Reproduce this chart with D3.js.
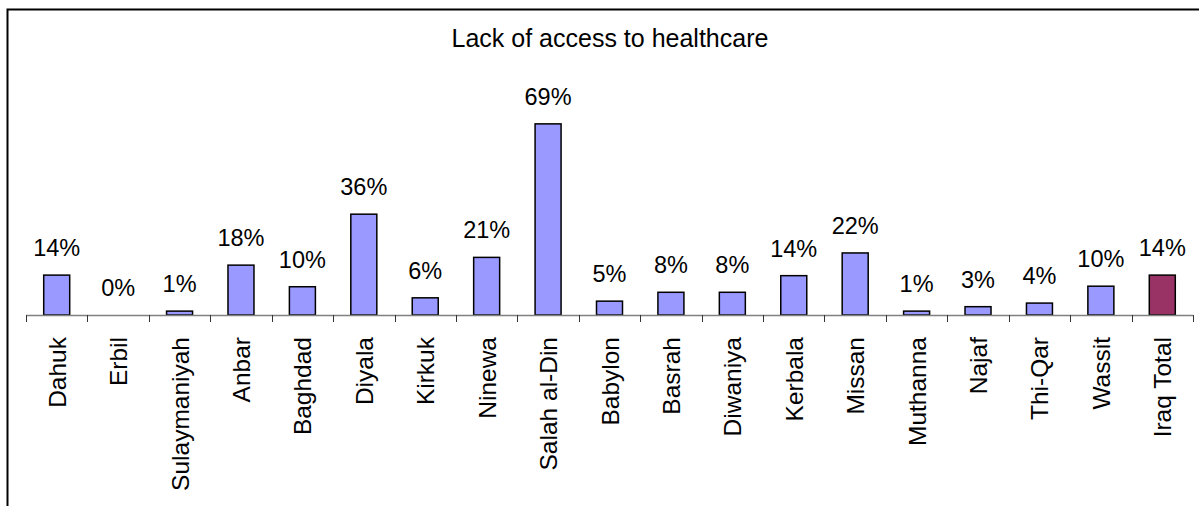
<!DOCTYPE html>
<html>
<head>
<meta charset="utf-8">
<script src="https://cdn.jsdelivr.net/npm/d3@7"></script>
<style>
  html, body { margin: 0; padding: 0; background: #fff; }
  svg { display: block; }
  text { font-family: "Liberation Sans", Arial, sans-serif; fill: #000; }
</style>
</head>
<body>
<svg id="chart" width="1199" height="506"></svg>
<script>
const title = "Lack of access to healthcare";
const categories = ["Dahuk","Erbil","Sulaymaniyah","Anbar","Baghdad","Diyala","Kirkuk","Ninewa","Salah al-Din","Babylon","Basrah","Diwaniya","Kerbala","Missan","Muthanna","Najaf","Thi-Qar","Wassit","Iraq Total"];
const values = [0.144,0.0,0.014,0.18,0.102,0.364,0.062,0.208,0.69,0.05,0.082,0.082,0.142,0.224,0.014,0.03,0.043,0.104,0.144];
const colors = {region: "#9999FF", total: "#993366"};

const svg = d3.select("#chart");
const W = 1199, H = 506;

// frame
svg.append("path").attr("d", `M7.5,${H} L7.5,9.5 L${W},9.5`)
  .attr("fill","none").attr("stroke","#000").attr("stroke-width",2);

const x = d3.scaleBand().domain(categories).range([26, 1193]).paddingInner(0).paddingOuter(0);
const y = d3.scaleLinear().domain([0, 0.8]).range([315, 315 - 0.8 * 277]);
const barW = 26;
const fmt = d3.format(".0%");

svg.append("text").attr("x", 610).attr("y", 47).attr("text-anchor","middle")
  .style("font-size","25px").text(title);

// bars
svg.append("g").selectAll("rect").data(categories).join("rect")
  .attr("x", d => x(d) + x.bandwidth()/2 - barW/2)
  .attr("y", (d,i) => y(values[i]))
  .attr("width", barW)
  .attr("height", (d,i) => y(0) - y(values[i]))
  .attr("fill", (d,i) => d === "Iraq Total" ? colors.total : colors.region)
  .attr("stroke", (d,i) => values[i] > 0 ? "#000" : "none")
  .attr("stroke-width", 1.5);

// axis
const axis = d3.axisBottom(x).tickSize(0).tickFormat("");
const ax = svg.append("g").attr("transform", `translate(0,${y(0)})`).call(axis);
ax.select(".domain").attr("stroke","#808080").attr("stroke-width",1.5).attr("d", `M26,0.5H1193`);
// boundary ticks
const bounds = categories.map(c => x(c)).concat([x.range()[1]]);
ax.selectAll(".btick").data(bounds).join("line").attr("class","btick")
  .attr("x1", d => Math.round(d)+0.5).attr("x2", d => Math.round(d)+0.5)
  .attr("y1", 0).attr("y2", 7).attr("stroke","#333").attr("stroke-width",1);

// category labels
svg.append("g").selectAll("text").data(categories).join("text")
  .attr("transform", d => `translate(${x(d) + x.bandwidth()/2 + 9},337) rotate(-90)`)
  .attr("text-anchor","end")
  .style("font-size","24.5px")
  .text(d => d);

// value labels
svg.append("g").selectAll("text").data(categories).join("text")
  .attr("x", d => x(d) + x.bandwidth()/2)
  .attr("y", (d,i) => y(values[i]) - 19)
  .attr("text-anchor","middle")
  .style("font-size","23.5px")
  .text((d,i) => fmt(values[i]));
</script>
</body>
</html>
